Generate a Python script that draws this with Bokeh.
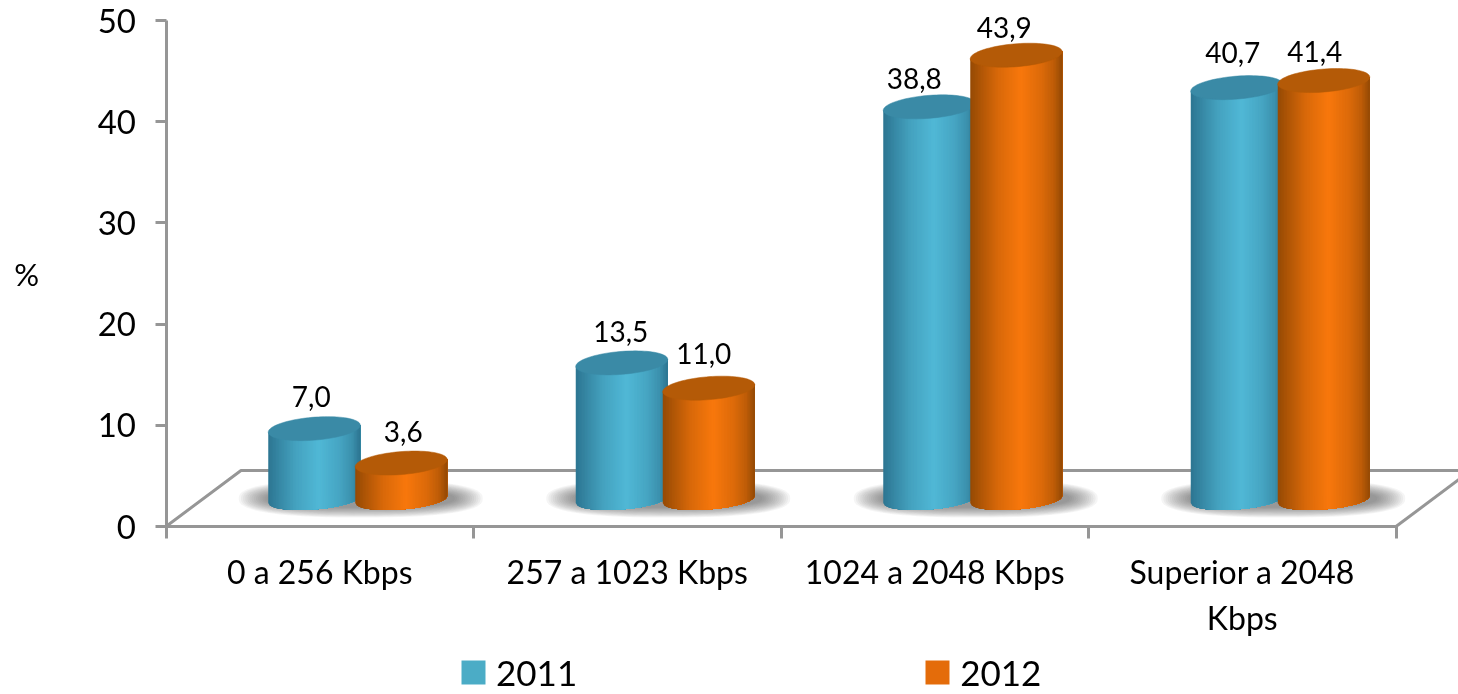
import numpy as np
from bokeh.embed import file_html
from bokeh.resources import INLINE
from bokeh.plotting import figure
from bokeh.models import (FixedTicker, Legend, LegendItem, LinearAxis, Range1d)
from bokeh.core.properties import value

# ---- data -------------------------------------------------------------
categories = ["0 a 256 Kbps", "257 a 1023 Kbps", "1024 a 2048 Kbps", "Superior a 2048\nKbps"]
series_2011 = [7.0, 13.5, 38.8, 40.7]
series_2012 = [3.6, 11.0, 43.9, 41.4]
labels_2011 = ["7,0", "13,5", "38,8", "40,7"]
labels_2012 = ["3,6", "11,0", "43,9", "41,4"]
y_ticks = [0, 10, 20, 30, 40, 50]

# ---- layout ------------------------------------------------------------
W, H = 1458, 694
X0, Y0 = 165.5, 526.0      # pixel of the origin
SX, SY = 307.5, 10.12      # pixels per category / per unit
FONT = "Lato"
GREY = "#969696"

p = figure(width=W, height=H, output_backend="svg", toolbar_location=None,
           x_axis_type=None, y_axis_type=None, min_border=0,
           x_range=Range1d((0 - X0) / SX, (W - X0) / SX),
           y_range=Range1d((Y0 - H) / SY, Y0 / SY),
           outline_line_color=None, background_fill_color="white")
p.styles = {"position": "fixed", "left": "0px", "top": "0px"}
p.xgrid.visible = False
p.ygrid.visible = False

# floor of the 3-D box
depth_x, depth_y = 75 / SX, 56 / SY
x_end = 4.0 + depth_x
p.line([0, depth_x, x_end], [0, depth_y, depth_y], line_color=GREY, line_width=3)
p.line([4, x_end], [0, depth_y], line_color=GREY, line_width=3)

# axes
yax = LinearAxis(fixed_location=0, bounds=(0, 50), ticker=FixedTicker(ticks=y_ticks),
                 axis_line_color=GREY, axis_line_width=3, major_tick_line_color=GREY,
                 major_tick_line_width=3, major_tick_out=11, major_tick_in=0,
                 minor_tick_line_color=None, major_label_text_font=FONT,
                 major_label_text_font_size="33px", major_label_text_color="#000000",
                 major_label_standoff=19, axis_label="%", axis_label_text_font=FONT,
                 axis_label_text_font_size="31px", axis_label_text_font_style="normal",
                 axis_label_orientation="horizontal", axis_label_standoff=56,
                 axis_label_text_color="#000000")
p.add_layout(yax, "left")

xax = LinearAxis(fixed_location=0, bounds=(0, 4), ticker=FixedTicker(ticks=[0, 1, 2, 3, 4]),
                 axis_line_color=GREY, axis_line_width=3, major_tick_line_color=GREY,
                 major_tick_line_width=3, major_tick_out=12, major_tick_in=0,
                 minor_tick_line_color=None, major_label_text_alpha=0)
p.add_layout(xax, "below")

mids = [i + 0.5 for i in range(len(categories))]
cax = LinearAxis(fixed_location=0, ticker=FixedTicker(ticks=mids),
                 major_label_overrides={m: c for m, c in zip(mids, categories)},
                 axis_line_color=None, major_tick_line_color=None, minor_tick_line_color=None,
                 major_tick_out=0, major_tick_in=0, major_label_standoff=25,
                 major_label_text_font=FONT, major_label_text_font_size="32px",
                 major_label_text_color="#000000")
p.add_layout(cax, "below")

# cylinders
GROUP_SHIFT = 38 / SX
BAR_OFF = 43.5 / SX
A, B, K = 46.0, 11.5, 0.076      # half width, half ellipse height (px), tilt
B_FOOT = 10.0
BASE = 27 / SY                   # height of the cylinders' foot above the floor front
STOPS_T = [-1.0, -0.75, -0.4, 0.1, 0.55, 0.82, 1.0]
STOPS_S = [0.02, 0.30, 0.68, 1.0, 0.72, 0.42, 0.0]
STYLE = {"b": ("#2c7490", "#50b8d6", "#3a8aa6"), "o": ("#934904", "#f8770c", "#b45a07")}


def hexmix(c1, c2, s):
    a = np.array([int(c1[i:i + 2], 16) for i in (1, 3, 5)])
    b = np.array([int(c2[i:i + 2], 16) for i in (1, 3, 5)])
    r = np.round(a + (b - a) * s).astype(int)
    return "#%02x%02x%02x" % tuple(r)


def cylinder(cx, v, key):
    dark, light, top = STYLE[key]
    n = 60
    edges = np.linspace(-A, A, n + 1)
    ytop = BASE + v
    low = BASE + (K * edges - B_FOOT * np.sqrt(np.maximum(0.0, 1 - (edges / A) ** 2))) / SY
    xs, ys, cols = [], [], []
    # painter's strips: each one reaches to the right edge, so no seams appear
    for i in range(n):
        um = (edges[i] + edges[i + 1]) / 2
        s = float(np.interp(um / A, STOPS_T, STOPS_S))
        ex = edges[i:]
        xs.append(list(cx + ex / SX) + [cx + A / SX, cx + edges[i] / SX])
        ys.append(list(low[i:]) + [ytop + K * A / SY, ytop + K * edges[i] / SY])
        cols.append(hexmix(dark, light, s))
    p.patches(xs, ys, fill_color=cols, line_color=None)
    phi = np.linspace(0, 2 * np.pi, 90)
    ux = A * np.cos(phi)
    uy = K * ux + B * np.sin(phi)
    p.patch(cx + ux / SX, ytop + uy / SY, fill_color=top, line_color=top, line_width=0.5)


# soft shadows on the floor
phi_s = np.linspace(0, 2 * np.pi, 72)
for m in mids:
    cx = m + GROUP_SHIFT
    for i in range(14):
        f = i / 13
        a_s, b_s = 122 - 28 * f, 19 - 10 * f
        sx = np.sign(np.cos(phi_s)) * np.abs(np.cos(phi_s)) ** 0.8
        sy = np.sign(np.sin(phi_s)) * np.abs(np.sin(phi_s)) ** 0.8
        p.patch(cx + (3 + a_s * sx) / SX, (27 + 1 + b_s * sy) / SY,
                fill_color="#4a4a4a", fill_alpha=0.055, line_color=None)

for m, a, b in zip(mids, series_2011, series_2012):
    cx = m + GROUP_SHIFT
    cylinder(cx - BAR_OFF, a, "b")
    cylinder(cx + BAR_OFF, b, "o")

# value labels, nudged by hand as in the source chart (px)
dx_2011, dy_2011 = [-3, -1, -15, -4], [32, 31, 28, 35]
dx_2012, dy_2012 = [2, -5, -12, -9], [32, 35, 28, 29]
tx, ty, tt = [], [], []
for m, a, b, la, lb, dxa, dya, dxb, dyb in zip(mids, series_2011, series_2012, labels_2011,
                                               labels_2012, dx_2011, dy_2011, dx_2012, dy_2012):
    cx = m + GROUP_SHIFT
    tx += [cx - BAR_OFF + dxa / SX, cx + BAR_OFF + dxb / SX]
    ty += [BASE + a + dya / SY, BASE + b + dyb / SY]
    tt += [la, lb]
p.text(tx, ty, text=tt, text_font=value(FONT), text_font_size="28px", text_color="#000000",
       text_align="center", text_baseline="middle")

# legend (its keys come from two off-view quads)
r1 = p.quad(left=[-9], right=[-8], top=[1], bottom=[0], fill_color="#4bacc6", line_color=None)
r2 = p.quad(left=[-9], right=[-8], top=[1], bottom=[0], fill_color="#e46c0a", line_color=None)
legend = Legend(items=[LegendItem(label="2011", renderers=[r1]), LegendItem(label="2012", renderers=[r2])],
                orientation="horizontal", location=(458, 1), padding=0, margin=0, spacing=345,
                glyph_width=30, glyph_height=30, label_standoff=8, border_line_color=None,
                background_fill_alpha=0, label_text_font=FONT, label_text_font_size="35px",
                label_text_color="#000000", label_height=23)
p.add_layout(legend)

open("out.html", "w").write(file_html(p, INLINE))
